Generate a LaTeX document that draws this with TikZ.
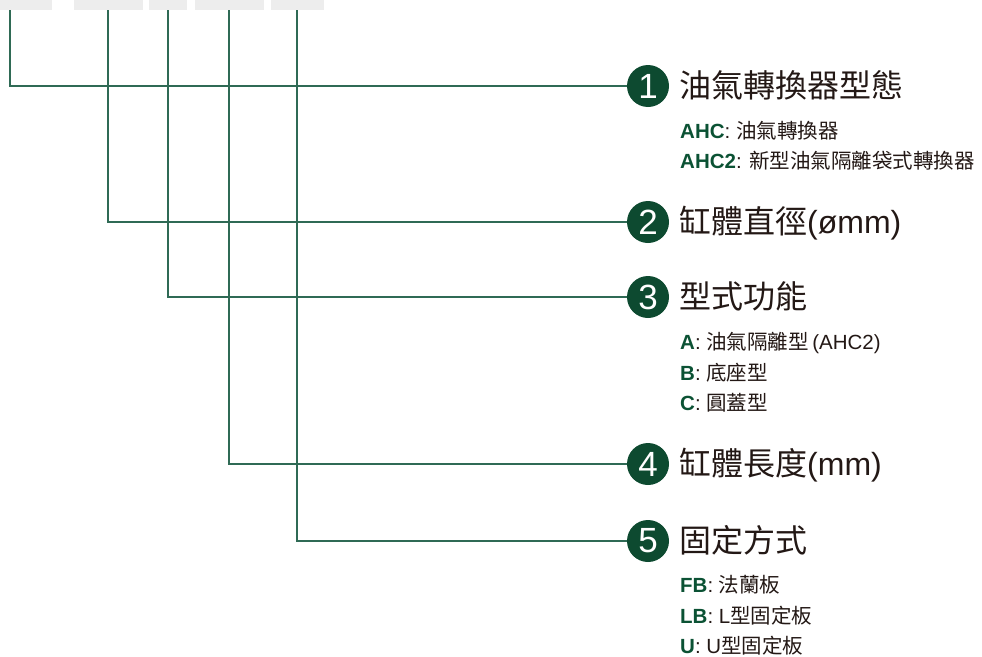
\documentclass[tikz,border=0pt]{standalone}
\usepackage{fontspec}
\setmainfont{Liberation Sans}
\newfontfamily\cjk{Noto Sans CJK TC}
\usetikzlibrary{positioning}

\definecolor{linegreen}{HTML}{2F6A55}
\definecolor{dotgreen}{HTML}{0D4A30}
\definecolor{codegreen}{HTML}{0B5234}
\definecolor{txtdark}{HTML}{231815}
\definecolor{tabgray}{HTML}{EDEDED}

\newcommand{\zh}[1]{{\cjk #1}}
\newcommand{\code}[1]{\textcolor{codegreen}{\textbf{#1}}}

\tikzset{
  tab/.style={fill=tabgray, inner sep=0pt, minimum height=10, anchor=north},
  dot/.style={circle, fill=dotgreen, text=white, minimum size=42, inner sep=0pt,
    font=\fontsize{35}{35}\selectfont},
  lead/.style={color=linegreen, line width=1.3},
  title/.style={anchor=base west, text=txtdark, inner sep=0pt,
    font=\fontsize{32}{32}\selectfont},
  item/.style={anchor=base west, text=txtdark, inner sep=0pt,
    font=\fontsize{20.5}{20.5}\selectfont}
}

\begin{document}
\begin{tikzpicture}[x=1pt, y=-1pt]
  \clip (0, 0) rectangle (982, 656);

  % tabs of the part number
  \node [tab, minimum width=84] (b1) at (10, 0) {};
  \node [tab, minimum width=69] (b2) at (108, 0) {};
  \node [tab, minimum width=38] (b3) at (168, 0) {};
  \node [tab, minimum width=69] (b4) at (229, 0) {};
  \node [tab, minimum width=53] (b5) at (297, 0) {};

  \node [dot] (n1) at (648, 86) {1};
  \node [dot] (n2) at (648, 222) {2};
  \node [dot] (n3) at (648, 297) {3};
  \node [dot] (n4) at (648, 464) {4};
  \node [dot] (n5) at (648, 541) {5};

  \draw [lead]
  (b1.south) |- (n1.west)
  (b2.south) |- (n2.west)
  (b3.south) |- (n3.west)
  (b4.south) |- (n4.west)
  (b5.south) |- (n5.west);

  \node [title] (h1) at (679, 97) {\zh{油氣轉換器型態}};
  \node [title] (h2) at (679, 233) {\zh{缸體直徑}(ømm)};
  \node [title] (h3) at (679, 308) {\zh{型式功能}};
  \node [title] (h4) at (679, 475) {\zh{缸體長度}(mm)};
  \node [title] (h5) at (679, 552) {\zh{固定方式}};

  \node [item] (i11) at (680, 138) {\code{AHC}: \zh{油氣轉換器}};
  \node [item] (i12) at (680, 168) {\code{AHC2}: \zh{新型油氣隔離袋式轉換器}};

  \node [item] (i31) at (680, 349) {\code{A}: \zh{油氣隔離型}\,(AHC2)};
  \node [item] (i32) at (680, 380) {\code{B}: \zh{底座型}};
  \node [item] (i33) at (680, 410) {\code{C}: \zh{圓蓋型}};

  \node [item] (i51) at (680, 592) {\code{FB}: \zh{法蘭板}};
  \node [item] (i52) at (680, 623) {\code{LB}: L\zh{型固定板}};
  \node [item] (i53) at (680, 653) {\code{U}: U\zh{型固定板}};
\end{tikzpicture}
\end{document}
